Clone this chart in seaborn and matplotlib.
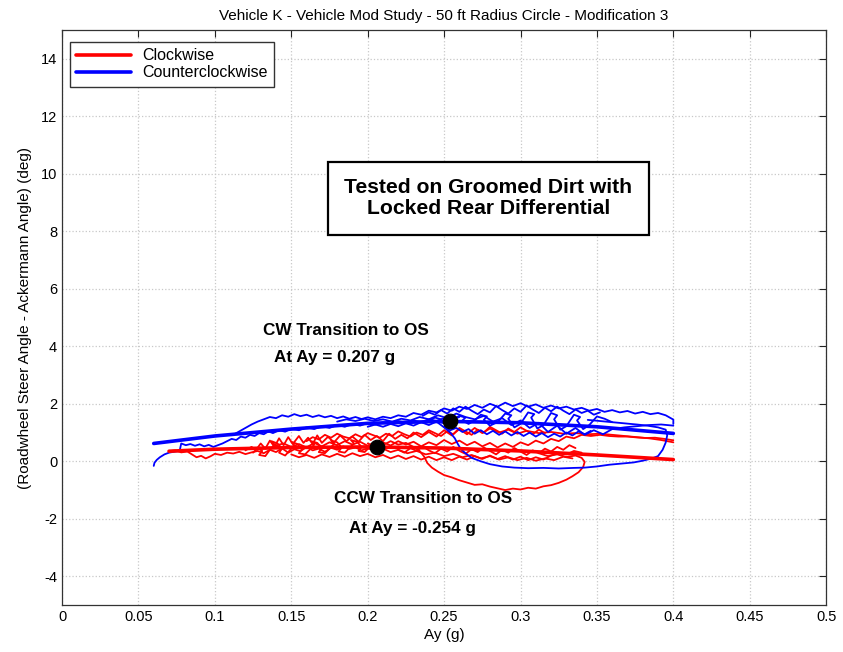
import matplotlib
matplotlib.use("Agg")
import matplotlib.pyplot as plt
import pandas as pd
import seaborn as sns

# ── Data ──────────────────────────────────────────────────────────────────────

cw_fit_x = [0.07, 0.10, 0.15, 0.20, 0.25, 0.30, 0.35, 0.40]
cw_fit_y = [0.35, 0.42, 0.48, 0.50, 0.46, 0.36, 0.22, 0.06]
ccw_fit_x = [0.06, 0.10, 0.15, 0.20, 0.25, 0.30, 0.35, 0.40]
ccw_fit_y = [0.62, 0.88, 1.12, 1.32, 1.39, 1.34, 1.20, 0.97]

transition_x = [0.206, 0.254]
transition_y = [0.49, 1.40]

# thin measured traces, clockwise (red)
cw_trace_1 = [(0.070, 0.35), (0.074, 0.38), (0.078, 0.31), (0.082, 0.34), (0.085, 0.24),
              (0.088, 0.14), (0.091, 0.19), (0.094, 0.10), (0.097, 0.17), (0.100, 0.26),
              (0.104, 0.22), (0.108, 0.30), (0.112, 0.27), (0.116, 0.33), (0.120, 0.25),
              (0.124, 0.31), (0.128, 0.36), (0.132, 0.28), (0.136, 0.40), (0.140, 0.32),
              (0.144, 0.45), (0.148, 0.30), (0.152, 0.42), (0.156, 0.35), (0.160, 0.50),
              (0.164, 0.38), (0.168, 0.44), (0.172, 0.33), (0.176, 0.47), (0.180, 0.40),
              (0.184, 0.52), (0.188, 0.43), (0.192, 0.48), (0.196, 0.38), (0.200, 0.45),
              (0.205, 0.36), (0.210, 0.44), (0.215, 0.32), (0.220, 0.40), (0.226, 0.28),
              (0.232, 0.36), (0.238, 0.24), (0.244, 0.30), (0.250, 0.18), (0.256, 0.26),
              (0.262, 0.14), (0.268, 0.22), (0.274, 0.10), (0.280, 0.18), (0.286, 0.06),
              (0.292, 0.14), (0.298, 0.04), (0.304, 0.12), (0.310, 0.02), (0.316, 0.10),
              (0.322, 0.04), (0.328, 0.16), (0.334, 0.10)]

cw_trace_2 = [(0.120, 0.38), (0.124, 0.50), (0.127, 0.40), (0.130, 0.62), (0.133, 0.44),
              (0.136, 0.72), (0.139, 0.50), (0.142, 0.80), (0.145, 0.56), (0.148, 0.84),
              (0.151, 0.60), (0.155, 0.88), (0.158, 0.64), (0.161, 0.82), (0.164, 0.60),
              (0.167, 0.90), (0.170, 0.64), (0.174, 0.85),
              (0.178, 0.66), (0.182, 0.90), (0.186, 0.70), (0.190, 0.86), (0.194, 0.68),
              (0.198, 0.92), (0.202, 0.74), (0.206, 0.88), (0.210, 0.70), (0.214, 0.96),
              (0.218, 0.78), (0.222, 0.92), (0.226, 0.80), (0.230, 1.00), (0.235, 0.84),
              (0.240, 1.02), (0.245, 0.86), (0.250, 1.08), (0.255, 0.90), (0.260, 1.12),
              (0.265, 0.94), (0.270, 1.16), (0.275, 0.98), (0.280, 1.14), (0.286, 1.00),
              (0.292, 1.10), (0.298, 0.96), (0.304, 1.06), (0.312, 0.98), (0.320, 1.02),
              (0.328, 0.96), (0.336, 0.98), (0.344, 0.94), (0.352, 0.96), (0.360, 0.92),
              (0.368, 0.88), (0.376, 0.84), (0.384, 0.80), (0.392, 0.74), (0.400, 0.66)]

cw_trace_3 = [(0.140, 0.55), (0.145, 0.62), (0.150, 0.50), (0.155, 0.60), (0.160, 0.48),
              (0.165, 0.64), (0.170, 0.52), (0.175, 0.66), (0.180, 0.56), (0.185, 0.70),
              (0.190, 0.58), (0.195, 0.68), (0.200, 0.54), (0.205, 0.66), (0.210, 0.56),
              (0.215, 0.70), (0.220, 0.58), (0.225, 0.64), (0.230, 0.50), (0.234, 0.36),
              (0.237, 0.16), (0.239, -0.06), (0.242, -0.22), (0.246, -0.36), (0.250, -0.48),
              (0.255, -0.56), (0.260, -0.66), (0.265, -0.74), (0.270, -0.82), (0.275, -0.80),
              (0.280, -0.88), (0.285, -0.94), (0.290, -1.00), (0.295, -0.95), (0.300, -0.98),
              (0.305, -0.92), (0.310, -0.95), (0.315, -0.87), (0.320, -0.83), (0.325, -0.75),
              (0.330, -0.64), (0.334, -0.52), (0.338, -0.38), (0.341, -0.20), (0.342, -0.02),
              (0.340, 0.12), (0.336, 0.20), (0.330, 0.15), (0.324, 0.24), (0.318, 0.18),
              (0.312, 0.28)]

cw_trace_4 = [(0.200, 0.62), (0.205, 0.52), (0.210, 0.66), (0.215, 0.55), (0.220, 0.70),
              (0.225, 0.58), (0.230, 0.68), (0.235, 0.52), (0.240, 0.66), (0.245, 0.56),
              (0.250, 0.74), (0.255, 0.60), (0.260, 0.72), (0.265, 0.56), (0.270, 0.68),
              (0.275, 0.52), (0.280, 0.64), (0.285, 0.48), (0.290, 0.62), (0.295, 0.50),
              (0.300, 0.66), (0.305, 0.56), (0.310, 0.72), (0.315, 0.62), (0.320, 0.78),
              (0.325, 0.70), (0.330, 0.86), (0.335, 0.80), (0.340, 0.92), (0.346, 0.88),
              (0.352, 0.92), (0.358, 0.88), (0.364, 0.86), (0.370, 0.86), (0.376, 0.83),
              (0.382, 0.81), (0.388, 0.82), (0.394, 0.78), (0.400, 0.73)]

cw_trace_5 = [(0.150, 0.24), (0.155, 0.14), (0.160, 0.22), (0.165, 0.12), (0.170, 0.24),
              (0.175, 0.15), (0.180, 0.26), (0.185, 0.16), (0.190, 0.28), (0.195, 0.18),
              (0.200, 0.26), (0.205, 0.14), (0.210, 0.22), (0.215, 0.10), (0.220, 0.20),
              (0.225, 0.08), (0.230, 0.18), (0.235, 0.06), (0.240, 0.16), (0.245, 0.04),
              (0.250, 0.14), (0.255, 0.04), (0.260, 0.16), (0.265, 0.06), (0.270, 0.18),
              (0.275, 0.08), (0.280, 0.20), (0.285, 0.08), (0.290, 0.18), (0.295, 0.06),
              (0.300, 0.16), (0.305, 0.04), (0.310, 0.14), (0.315, 0.06), (0.320, 0.20),
              (0.325, 0.30), (0.330, 0.24), (0.335, 0.36), (0.340, 0.30)]

cw_trace_6 = [(0.160, 0.70), (0.164, 0.84), (0.168, 0.76), (0.172, 0.92), (0.176, 0.82),
              (0.180, 0.96), (0.184, 0.86), (0.188, 0.80), (0.192, 0.94), (0.196, 0.84),
              (0.200, 0.98), (0.204, 0.90), (0.208, 0.82), (0.212, 0.96), (0.216, 0.88),
              (0.220, 1.04), (0.224, 0.94), (0.228, 0.86), (0.232, 1.00), (0.236, 0.92),
              (0.240, 1.08), (0.244, 0.98), (0.248, 0.88), (0.252, 1.04), (0.256, 0.94),
              (0.260, 1.16), (0.264, 1.04), (0.268, 0.92), (0.272, 1.10), (0.276, 1.00),
              (0.280, 1.20), (0.284, 1.08), (0.288, 0.96), (0.292, 1.14), (0.296, 1.02),
              (0.300, 1.18), (0.304, 1.06), (0.308, 0.94), (0.312, 1.10), (0.316, 0.98)]

cw_trace_7 = [(0.220, 0.40), (0.224, 0.30), (0.228, 0.46), (0.232, 0.36), (0.236, 0.52),
              (0.240, 0.38), (0.244, 0.28), (0.248, 0.44), (0.252, 0.34), (0.256, 0.50),
              (0.260, 0.36), (0.264, 0.26), (0.268, 0.42), (0.272, 0.32), (0.276, 0.48),
              (0.280, 0.36), (0.284, 0.24), (0.288, 0.40), (0.292, 0.30), (0.296, 0.46),
              (0.300, 0.34), (0.304, 0.22), (0.308, 0.38), (0.312, 0.28), (0.316, 0.44),
              (0.320, 0.34), (0.324, 0.50), (0.328, 0.40), (0.332, 0.56), (0.336, 0.46)]

cw_trace_8 = [(0.125, 0.30), (0.128, 0.46), (0.131, 0.36), (0.129, 0.22), (0.133, 0.18),
              (0.136, 0.40), (0.139, 0.58), (0.137, 0.70), (0.141, 0.62), (0.144, 0.44),
              (0.142, 0.30), (0.146, 0.20), (0.149, 0.38), (0.152, 0.56), (0.150, 0.68),
              (0.154, 0.60), (0.157, 0.42), (0.155, 0.28), (0.159, 0.24), (0.162, 0.40),
              (0.165, 0.58), (0.163, 0.70), (0.167, 0.64), (0.170, 0.46), (0.168, 0.32),
              (0.172, 0.28), (0.175, 0.44), (0.178, 0.60), (0.176, 0.72), (0.180, 0.66),
              (0.183, 0.48), (0.181, 0.34), (0.185, 0.30), (0.188, 0.46), (0.191, 0.62),
              (0.189, 0.74), (0.193, 0.68), (0.196, 0.50), (0.194, 0.36), (0.198, 0.32),
              (0.201, 0.48), (0.204, 0.64)]

# thin measured traces, counterclockwise (blue)
ccw_trace_1 = [(0.060, -0.16), (0.0605, -0.05), (0.062, 0.05), (0.064, 0.14), (0.067, 0.24),
               (0.070, 0.30), (0.074, 0.34), (0.077, 0.36), (0.0775, 0.50), (0.078, 0.62),
               (0.081, 0.56), (0.084, 0.60), (0.087, 0.54), (0.090, 0.59), (0.093, 0.52),
               (0.096, 0.57), (0.099, 0.50), (0.102, 0.56), (0.105, 0.62), (0.108, 0.70),
               (0.111, 0.78), (0.114, 0.74), (0.117, 0.86), (0.120, 0.82), (0.123, 0.92),
               (0.126, 0.88), (0.129, 0.98), (0.132, 0.94), (0.135, 1.04), (0.138, 0.98),
               (0.142, 1.08), (0.146, 1.03), (0.150, 1.13), (0.155, 1.08), (0.160, 1.18),
               (0.165, 1.12), (0.170, 1.22), (0.175, 1.16), (0.180, 1.26), (0.185, 1.20),
               (0.190, 1.30), (0.195, 1.24), (0.200, 1.33), (0.205, 1.27), (0.210, 1.36),
               (0.215, 1.30), (0.220, 1.40), (0.225, 1.34), (0.230, 1.42), (0.235, 1.36),
               (0.240, 1.46), (0.245, 1.40), (0.250, 1.50), (0.255, 1.44), (0.260, 1.54)]

ccw_trace_2 = [(0.112, 0.92), (0.116, 1.04), (0.120, 1.16), (0.124, 1.28), (0.128, 1.38),
               (0.132, 1.46), (0.136, 1.54), (0.140, 1.50), (0.144, 1.60), (0.148, 1.55),
               (0.152, 1.64), (0.156, 1.57), (0.160, 1.62), (0.164, 1.54), (0.168, 1.60),
               (0.172, 1.53), (0.176, 1.58), (0.180, 1.50), (0.184, 1.56), (0.188, 1.48),
               (0.192, 1.54), (0.196, 1.47), (0.200, 1.53), (0.205, 1.46), (0.210, 1.55),
               (0.215, 1.50), (0.220, 1.60), (0.225, 1.55), (0.230, 1.68), (0.235, 1.62),
               (0.240, 1.76), (0.245, 1.70), (0.250, 1.84), (0.255, 1.76), (0.260, 1.90),
               (0.265, 1.82), (0.270, 1.96), (0.275, 1.86), (0.280, 2.00), (0.285, 1.90),
               (0.290, 2.04), (0.295, 1.92), (0.300, 2.02), (0.305, 1.90), (0.310, 1.98),
               (0.315, 1.86), (0.320, 1.94), (0.325, 1.84), (0.330, 1.90), (0.335, 1.80),
               (0.340, 1.86), (0.345, 1.76), (0.350, 1.82), (0.355, 1.72), (0.360, 1.78),
               (0.365, 1.70), (0.370, 1.75), (0.375, 1.66), (0.380, 1.72), (0.385, 1.64),
               (0.390, 1.68), (0.395, 1.60), (0.400, 1.45), (0.400, 1.30)]

ccw_trace_3 = [(0.200, 1.20), (0.205, 1.28), (0.210, 1.20), (0.215, 1.30), (0.220, 1.22),
               (0.225, 1.32), (0.230, 1.24), (0.235, 1.36), (0.240, 1.26), (0.245, 1.38),
               (0.250, 1.18), (0.254, 1.00), (0.257, 0.80), (0.259, 0.60), (0.261, 0.42),
               (0.264, 0.28), (0.268, 0.12), (0.274, 0.00), (0.280, -0.10), (0.288, -0.18),
               (0.296, -0.22), (0.305, -0.24), (0.315, -0.23), (0.325, -0.25), (0.335, -0.23),
               (0.342, -0.22), (0.350, -0.18), (0.358, -0.12), (0.366, -0.08), (0.374, -0.04),
               (0.380, 0.02), (0.386, 0.10), (0.390, 0.18), (0.393, 0.40), (0.395, 0.65),
               (0.396, 0.90), (0.395, 1.10), (0.390, 1.18), (0.383, 1.24), (0.376, 1.28),
               (0.368, 1.32), (0.360, 1.36), (0.352, 1.40), (0.344, 1.44)]

ccw_trace_4 = [(0.240, 1.40), (0.244, 1.52), (0.248, 1.46), (0.246, 1.38), (0.250, 1.32),
               (0.255, 1.44), (0.260, 1.58), (0.264, 1.52), (0.262, 1.42), (0.266, 1.30),
               (0.270, 1.42), (0.274, 1.62), (0.278, 1.56), (0.276, 1.44), (0.280, 1.24),
               (0.285, 1.36), (0.290, 1.66), (0.294, 1.60), (0.292, 1.48), (0.296, 1.18),
               (0.300, 1.30), (0.305, 1.70), (0.309, 1.64), (0.307, 1.52), (0.311, 1.14),
               (0.315, 1.26), (0.320, 1.68), (0.324, 1.60), (0.322, 1.46), (0.326, 1.10),
               (0.330, 1.22), (0.335, 1.62), (0.339, 1.54), (0.337, 1.42), (0.341, 1.12),
               (0.345, 1.26), (0.350, 1.56), (0.355, 1.48), (0.360, 1.36)]

ccw_trace_5 = [(0.180, 1.38), (0.186, 1.46), (0.192, 1.40), (0.198, 1.48), (0.204, 1.40),
               (0.210, 1.46), (0.216, 1.38), (0.222, 1.48), (0.228, 1.42), (0.234, 1.54),
               (0.240, 1.46), (0.246, 1.60), (0.252, 1.50), (0.258, 1.66), (0.264, 1.54),
               (0.270, 1.46), (0.276, 1.58), (0.282, 1.38), (0.288, 1.50), (0.294, 1.26),
               (0.300, 1.42), (0.306, 1.16), (0.312, 1.34), (0.318, 1.02), (0.324, 1.24),
               (0.330, 0.96), (0.336, 1.16), (0.342, 0.92), (0.348, 1.08), (0.354, 0.94),
               (0.360, 1.12), (0.368, 1.18), (0.376, 1.22), (0.384, 1.26), (0.392, 1.28),
               (0.400, 1.24)]

ccw_trace_6 = [(0.236, 1.58), (0.240, 1.70), (0.244, 1.62), (0.248, 1.78), (0.252, 1.66),
               (0.256, 1.84), (0.260, 1.72), (0.264, 1.90), (0.268, 1.76), (0.272, 1.64),
               (0.276, 1.80), (0.280, 1.70), (0.284, 1.92), (0.288, 1.78), (0.292, 1.66),
               (0.296, 1.84), (0.300, 1.72), (0.304, 1.94), (0.308, 1.80), (0.312, 1.68),
               (0.316, 1.86), (0.320, 1.74), (0.324, 1.90), (0.328, 1.76), (0.332, 1.64),
               (0.336, 1.80), (0.340, 1.68), (0.344, 1.76), (0.348, 1.62), (0.352, 1.70)]

ccw_trace_7 = [(0.250, 1.20), (0.254, 1.08), (0.258, 1.16), (0.262, 1.02), (0.266, 1.12),
               (0.270, 0.96), (0.274, 1.08), (0.278, 0.94), (0.282, 1.06), (0.286, 0.92),
               (0.290, 1.04), (0.294, 0.90), (0.298, 1.02), (0.302, 0.88), (0.306, 1.00),
               (0.310, 0.86), (0.314, 0.98), (0.318, 0.84), (0.322, 0.96), (0.326, 0.86),
               (0.330, 1.00), (0.334, 0.90), (0.338, 1.04), (0.342, 0.94), (0.346, 1.06)]

cw_traces = [cw_trace_1, cw_trace_2, cw_trace_3, cw_trace_4, cw_trace_5, cw_trace_6,
             cw_trace_7, cw_trace_8]
ccw_traces = [ccw_trace_1, ccw_trace_2, ccw_trace_3, ccw_trace_4, ccw_trace_5,
              ccw_trace_6, ccw_trace_7]

x_ticks = [0, 0.05, 0.1, 0.15, 0.2, 0.25, 0.3, 0.35, 0.4, 0.45, 0.5]
y_ticks = [-4, -2, 0, 2, 4, 6, 8, 10, 12, 14]


def traces_frame(traces):
    rows = []
    for i, tr in enumerate(traces):
        for j, (x, y) in enumerate(tr):
            rows.append({"trace": i, "order": j, "x": x, "y": y})
    return pd.DataFrame(rows)


# ── Plot ──────────────────────────────────────────────────────────────────────

sns.set_style("whitegrid")
plt.rcParams["font.family"] = ["Liberation Sans", "DejaVu Sans"]
plt.rcParams["text.color"] = "black"
plt.rcParams["axes.labelcolor"] = "black"
plt.rcParams["axes.unicode_minus"] = False

fig = plt.figure(figsize=(8.43, 6.52), dpi=100)
ax = fig.add_axes([0.0736, 0.072, 0.9064, 0.882])

sns.lineplot(data=traces_frame(cw_traces), x="x", y="y", units="trace",
             estimator=None, sort=False, color="red", lw=1.3, ax=ax)
sns.lineplot(data=traces_frame(ccw_traces), x="x", y="y", units="trace",
             estimator=None, sort=False, color="blue", lw=1.3, ax=ax)

sns.lineplot(x=cw_fit_x, y=cw_fit_y, color="red", lw=2.6, ax=ax, label="Clockwise")
sns.lineplot(x=ccw_fit_x, y=ccw_fit_y, color="blue", lw=2.6, ax=ax,
             label="Counterclockwise")
sns.scatterplot(x=transition_x, y=transition_y, color="black", s=110,
                edgecolor="black", zorder=5, ax=ax)

ax.set_xlim(0, 0.5)
ax.set_ylim(-5, 15)
ax.set_xticks(x_ticks)
ax.set_xticklabels([f"{v:g}" for v in x_ticks])
ax.set_yticks(y_ticks)
ax.grid(True, color="#c8c8c8", linestyle=":", linewidth=0.9)
for s in ax.spines.values():
    s.set_color("#333333")
    s.set_linewidth(0.9)
ax.tick_params(direction="in", top=True, right=True, length=5, colors="#222222",
               labelsize=10.5, labelcolor="black")

ax.set_title("Vehicle K - Vehicle Mod Study - 50 ft Radius Circle - Modification 3",
             fontsize=11, pad=7)
ax.set_xlabel("Ay (g)", fontsize=11, labelpad=3)
ax.set_ylabel("(Roadwheel Steer Angle - Ackermann Angle) (deg)", fontsize=11, labelpad=6)

ax.text(0.186, 4.55, "CW Transition to OS", ha="center", va="center",
        fontsize=12.3, fontweight="bold")
ax.text(0.178, 3.6, "At Ay = 0.207 g", ha="center", va="center",
        fontsize=12.3, fontweight="bold")
ax.text(0.236, -1.3, "CCW Transition to OS", ha="center", va="center",
        fontsize=12.3, fontweight="bold")
ax.text(0.229, -2.35, "At Ay = -0.254 g", ha="center", va="center",
        fontsize=12.3, fontweight="bold")
ax.text(0.279, 9.15, "Tested on Groomed Dirt with\nLocked Rear Differential",
        ha="center", va="center", fontsize=15.2, fontweight="bold", linespacing=1.15,
        bbox=dict(boxstyle="square,pad=0.78", facecolor="white", edgecolor="black",
                  linewidth=1.6))

leg = ax.legend(loc="upper left", fontsize=11.5, handlelength=3.4, handletextpad=0.7,
                fancybox=False, framealpha=1, borderpad=0.4, labelspacing=0.12,
                borderaxespad=0, bbox_to_anchor=(0.0105, 0.979))
leg.get_frame().set_edgecolor("#333333")

fig.savefig("out.png", dpi=100, facecolor="white")
